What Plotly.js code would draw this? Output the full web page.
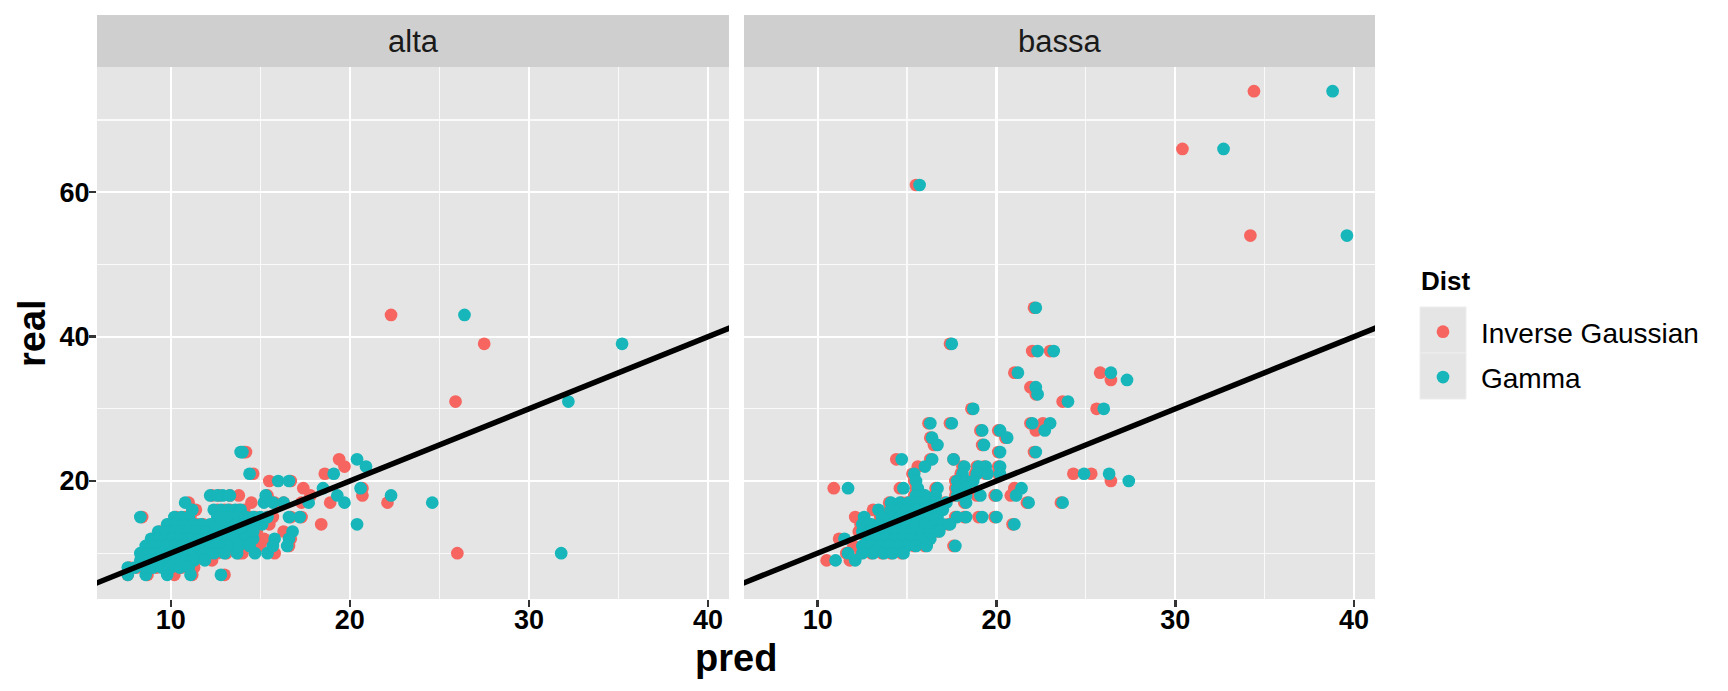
<!DOCTYPE html>
<html>
<head>
<meta charset="utf-8">
<script src="https://cdn.plot.ly/plotly-3.0.1.min.js"></script>
<style>html,body{margin:0;padding:0;background:#fff;}#chart{width:1728px;height:691px;}</style>
</head>
<body>
<div id="chart"></div>
<script>
// ---------- data ----------
const panels = ["alta", "bassa"];
const distNames = ["Inverse Gaussian", "Gamma"];
const legendTitle = "Dist";
const xTitle = "pred";
const yTitle = "real";

const altaReal = [
43,39,31,10,17,18,19,17,14,23,
22,21,19,18,17,24,24,21,20,20,
15,15,13,12,11,14,10,10,10,12,
7,15,8,7,7,7,17,16,18,18,
18,18,17,17,17,18,15,15,12,11,
16,16,16,16,16,
15,15,15,15,15,15,15,15,15,
14,14,14,14,14,14,14,14,14,14,14,
13,13,13,13,13,13,13,13,13,13,13,13,
12,12,12,12,12,12,12,12,12,12,12,12,
11,11,11,11,11,11,11,11,11,11,11,11,11,
10,10,10,10,10,10,10,10,10,10,10,
9,9,9,9,9,9,9,9,9,
8,8,8,8,8,8,8,
7
];
const altaPredGamma = [
26.4,35.2,32.2,31.8,24.6,22.3,20.6,19.7,20.4,20.4,
20.9,19.1,18.5,19.3,17.7,13.9,14.0,14.4,16.0,16.6,
17.2,16.6,16.8,16.6,16.5,15.1,15.4,14.7,13.7,15.8,
12.8,8.3,7.6,7.6,8.6,9.8,10.8,11.2,12.2,12.9,
13.3,12.6,15.2,15.7,16.3,15.3,15.0,15.4,14.6,15.7,
12.4,12.8,13.2,13.6,13.9,
10.2,10.6,11.0,12.6,13.0,13.4,13.8,14.2,14.6,
9.8,10.3,10.8,11.3,11.7,12.2,12.7,13.2,13.7,14.1,14.6,
9.3,9.7,10.2,10.6,11.0,11.5,12.0,12.5,13.0,13.5,14.0,14.6,
8.9,9.3,9.7,10.1,10.5,11.0,11.5,12.0,12.5,13.0,13.5,14.1,
8.6,9.0,9.4,9.8,10.2,10.6,11.1,11.6,12.1,12.6,13.2,13.8,14.4,
8.3,8.7,9.1,9.5,9.9,10.3,10.8,11.3,11.8,12.4,13.0,
8.3,8.7,9.1,9.5,9.9,10.3,10.8,11.3,11.9,
8.0,8.6,9.0,9.5,10.0,10.5,11.0,
11.1
];
const altaPredIG = [
22.3,27.5,25.9,26.0,22.1,20.7,20.7,18.9,18.4,19.4,
19.7,18.6,17.4,17.8,17.3,14.2,14.1,14.6,15.5,16.7,
17.3,16.7,16.3,16.7,16.6,15.5,15.8,14.0,13.8,15.2,
13.0,8.4,7.7,7.6,8.7,10.2,11.0,11.4,12.3,13.3,
13.8,12.7,14.5,15.8,16.3,15.4,15.4,15.7,14.7,15.0,
12.6,13.0,13.3,13.8,14.1,
10.3,10.8,11.1,12.8,13.1,13.6,13.9,14.4,14.7,
9.9,10.5,10.9,11.5,11.8,12.4,12.8,13.4,13.8,14.3,14.8,
9.4,9.9,10.3,10.8,11.2,11.6,12.2,12.6,13.2,13.6,14.2,14.8,
9.0,9.5,9.8,10.3,10.7,11.1,11.7,12.1,12.7,13.1,13.7,14.2,
8.7,9.2,9.5,10.0,10.3,10.8,11.2,11.8,12.2,12.8,13.3,14.0,14.6,
8.4,8.9,9.2,9.7,10.0,10.5,10.9,11.5,11.9,12.6,13.1,
8.4,8.8,9.3,9.6,10.1,10.4,11.0,11.4,12.3,
8.1,8.7,9.2,9.6,10.2,10.6,11.3,
11.2
];

const bassaReal = [
74,66,61,54,44,39,38,38,35,35,
34,33,32,31,30,30,28,28,28,28,
27,27,27,26,26,25,25,24,24,23,
23,23,22,22,22,22,22,21,21,20,
19,21,19,18,17,17,18,18,15,15,
14,11,9,9,12,15,13,16,10,
21,21,21,21,
20,20,20,20,
19,19,19,19,19,
18,18,18,18,18,
17,17,17,17,17,17,17,17,
16,16,16,16,16,16,16,
15,15,15,15,15,15,15,15,15,
14,14,14,14,14,14,14,14,14,14,14,
13,13,13,13,13,13,13,13,13,
12,12,12,12,12,12,12,12,
11,11,11,11,11,11,11,11,
10,10,10,10,10
];
const bassaPredGamma = [
38.8,32.7,15.7,39.6,22.2,17.5,22.3,23.2,21.2,26.4,
27.3,22.2,22.3,24.0,26.0,18.7,16.3,17.5,22.0,23.0,
22.7,19.2,20.2,16.4,20.6,19.3,16.7,20.2,22.2,14.7,
17.6,16.4,16.0,18.2,19.0,19.4,20.2,24.9,26.3,27.4,
11.7,15.4,21.4,21.1,21.8,23.7,20.0,19.1,20.0,19.2,
21.0,17.7,11.0,12.1,11.5,12.6,12.5,13.4,11.7,
18.1,18.9,19.5,20.2,
15.5,17.8,18.3,18.7,
14.8,15.6,16.7,17.8,18.3,
15.5,16.0,16.6,17.8,18.3,
14.1,14.6,15.1,15.6,16.1,16.6,17.2,18.3,
14.1,14.6,15.0,15.5,16.0,16.6,17.0,
13.6,14.1,14.6,15.1,15.6,16.1,16.7,17.8,18.3,
12.5,13.0,13.5,14.0,14.5,15.0,15.5,16.0,16.5,17.0,17.4,
12.9,13.3,13.8,14.3,14.8,15.3,15.8,16.3,16.8,
12.8,13.3,13.8,14.3,14.8,15.3,15.8,16.3,
12.5,13.0,13.5,14.0,14.5,15.0,15.5,16.1,
12.5,13.1,13.7,14.2,14.8
];
const bassaPredIG = [
34.4,30.4,15.5,34.2,22.1,17.4,22.0,23.0,21.0,25.8,
26.4,21.9,22.2,23.7,25.6,18.6,16.2,17.4,21.9,22.6,
22.2,19.1,20.1,16.3,20.5,19.2,16.5,20.1,22.1,14.4,
17.6,16.3,15.6,18.1,18.9,19.3,20.1,24.3,25.3,26.4,
10.9,15.3,21.0,20.8,21.7,23.6,19.9,18.9,19.9,19.0,
20.9,17.6,10.5,11.8,11.2,12.1,12.4,13.1,11.6,
18.0,18.8,19.4,20.1,
15.4,17.7,18.2,18.6,
14.6,15.5,16.6,17.7,18.2,
15.4,15.9,16.5,17.7,18.2,
14.0,14.7,15.0,15.5,16.0,16.5,17.1,18.2,
14.0,14.5,14.9,15.4,15.9,16.5,16.9,
13.5,14.0,14.5,15.0,15.5,16.0,16.6,17.7,18.2,
12.4,12.9,13.4,13.9,14.4,14.9,15.4,15.9,16.4,16.9,17.3,
12.3,13.2,13.7,14.2,14.7,15.2,15.7,16.2,16.7,
12.7,13.2,13.7,14.2,14.7,15.2,15.7,16.2,
12.0,12.9,13.4,13.9,14.4,14.9,15.4,16.0,
12.4,13.0,13.6,14.1,14.7
];

// reference line real = pred (intercept 0, slope 1)
const ablineX = [0, 100];
const ablineY = [0, 100];

// ---------- styling ----------
const FONT = "Liberation Sans, Arial, Helvetica, sans-serif";
const COL_IG = "#F6655F";
const COL_GAMMA = "#16B6BA";

function pts(x, y, name, color, xa, show) {
  return {
    type: "scatter", mode: "markers", x: x, y: y, name: name,
    xaxis: xa, yaxis: "y", legendgroup: name, showlegend: show,
    marker: {color: color, size: 12.7, line: {width: 0}},
    hoverinfo: "x+y+name"
  };
}
function abline(xa) {
  return {
    type: "scatter", mode: "lines", x: ablineX, y: ablineY, xaxis: xa, yaxis: "y",
    line: {color: "#000000", width: 5.5}, showlegend: false, hoverinfo: "skip"
  };
}

const data = [
  pts(altaPredIG, altaReal, distNames[0], COL_IG, "x", true),
  pts(altaPredGamma, altaReal, distNames[1], COL_GAMMA, "x", true),
  pts(bassaPredIG, bassaReal, distNames[0], COL_IG, "x2", false),
  pts(bassaPredGamma, bassaReal, distNames[1], COL_GAMMA, "x2", false),
  abline("x"), abline("x2")
];

const W = 1728, H = 691;
const mL = 97, mR = 353, mT = 67, mB = 92;
const pw = W - mL - mR, ph = H - mT - mB;
const px = v => (v - mL) / pw;       // pixel x -> paper
const py = v => (H - mB - v) / ph;   // pixel y -> paper

const d1 = [0, px(729)], d2 = [px(744), 1];

const xCommon = {
  range: [5.88, 41.17], tick0: 0, dtick: 10, showgrid: true, gridcolor: "#FFFFFF", gridwidth: 2.2,
  zeroline: false, showline: false, ticks: "outside", ticklen: 7, tickwidth: 2.5, tickcolor: "#333333",
  tickfont: {family: FONT, size: 27, color: "#000000", weight: "bold"},
  ticklabelstandoff: -10,
  minor: {dtick: 5, tick0: 0, showgrid: true, gridcolor: "#FAFAFA", gridwidth: 1.2, ticks: ""},
  anchor: "y", fixedrange: true
};

const layout = {
  width: W, height: H,
  margin: {l: mL, r: mR, t: mT, b: mB, pad: 0},
  paper_bgcolor: "#FFFFFF", plot_bgcolor: "#E5E5E5",
  font: {family: FONT, color: "#000000"},
  xaxis: Object.assign({}, xCommon, {domain: d1}),
  xaxis2: Object.assign({}, xCommon, {domain: d2}),
  yaxis: {
    domain: [0, 1], range: [3.65, 77.35], tick0: 0, dtick: 20, anchor: "x",
    showgrid: true, gridcolor: "#FFFFFF", gridwidth: 2.2, zeroline: false, showline: false,
    ticks: "outside", ticklen: 7, tickwidth: 2.5, tickcolor: "#333333",
    tickfont: {family: FONT, size: 27, color: "#000000", weight: "bold"},
    ticklabelstandoff: -6,
    minor: {dtick: 10, tick0: 0, showgrid: true, gridcolor: "#FAFAFA", gridwidth: 1.2, ticks: ""},
    fixedrange: true
  },
  showlegend: true,
  legend: {
    x: px(1405), xanchor: "left", y: py(307), yanchor: "top",
    bgcolor: "rgba(0,0,0,0)", borderwidth: 0,
    font: {family: FONT, size: 28, color: "#000000"},
    itemwidth: 66, traceorder: "grouped", tracegroupgap: 6,
    itemclick: false, itemdoubleclick: false
  },
  shapes: [
    {type: "rect", xref: "paper", yref: "paper", x0: d1[0], x1: d1[1], y0: 1, y1: py(15),
     fillcolor: "#CFCFCF", line: {width: 0}, layer: "below"},
    {type: "rect", xref: "paper", yref: "paper", x0: d2[0], x1: d2[1], y0: 1, y1: py(15),
     fillcolor: "#CFCFCF", line: {width: 0}, layer: "below"},
    {type: "rect", xref: "paper", yref: "paper", x0: px(1420), x1: px(1466), y0: py(353), y1: py(307),
     fillcolor: "#E5E5E5", line: {width: 1, color: "#EDEDED"}, layer: "below"},
    {type: "rect", xref: "paper", yref: "paper", x0: px(1420), x1: px(1466), y0: py(399), y1: py(353),
     fillcolor: "#E5E5E5", line: {width: 1, color: "#EDEDED"}, layer: "below"}
  ],
  annotations: [
    {text: panels[0], xref: "paper", yref: "paper", x: (d1[0] + d1[1]) / 2, y: py(42),
     xanchor: "center", yanchor: "middle", showarrow: false,
     font: {family: FONT, size: 31, color: "#1A1A1A"}},
    {text: panels[1], xref: "paper", yref: "paper", x: (d2[0] + d2[1]) / 2, y: py(42),
     xanchor: "center", yanchor: "middle", showarrow: false,
     font: {family: FONT, size: 31, color: "#1A1A1A"}},
    {text: "<b>" + xTitle + "</b>", xref: "paper", yref: "paper", x: 0.5, y: py(658),
     xanchor: "center", yanchor: "middle", showarrow: false,
     font: {family: FONT, size: 38, color: "#000000"}},
    {text: "<b>" + yTitle + "</b>", xref: "paper", yref: "paper", x: px(32), y: 0.5, textangle: -90,
     xanchor: "center", yanchor: "middle", showarrow: false,
     font: {family: FONT, size: 38, color: "#000000"}},
    {text: "<b>" + legendTitle + "</b>", xref: "paper", yref: "paper", x: px(1419), y: py(281),
     xanchor: "left", yanchor: "middle", showarrow: false,
     font: {family: FONT, size: 26, color: "#000000"}}
  ]
};

Plotly.newPlot("chart", data, layout, {displayModeBar: false, staticPlot: true});
</script>
</body>
</html>
